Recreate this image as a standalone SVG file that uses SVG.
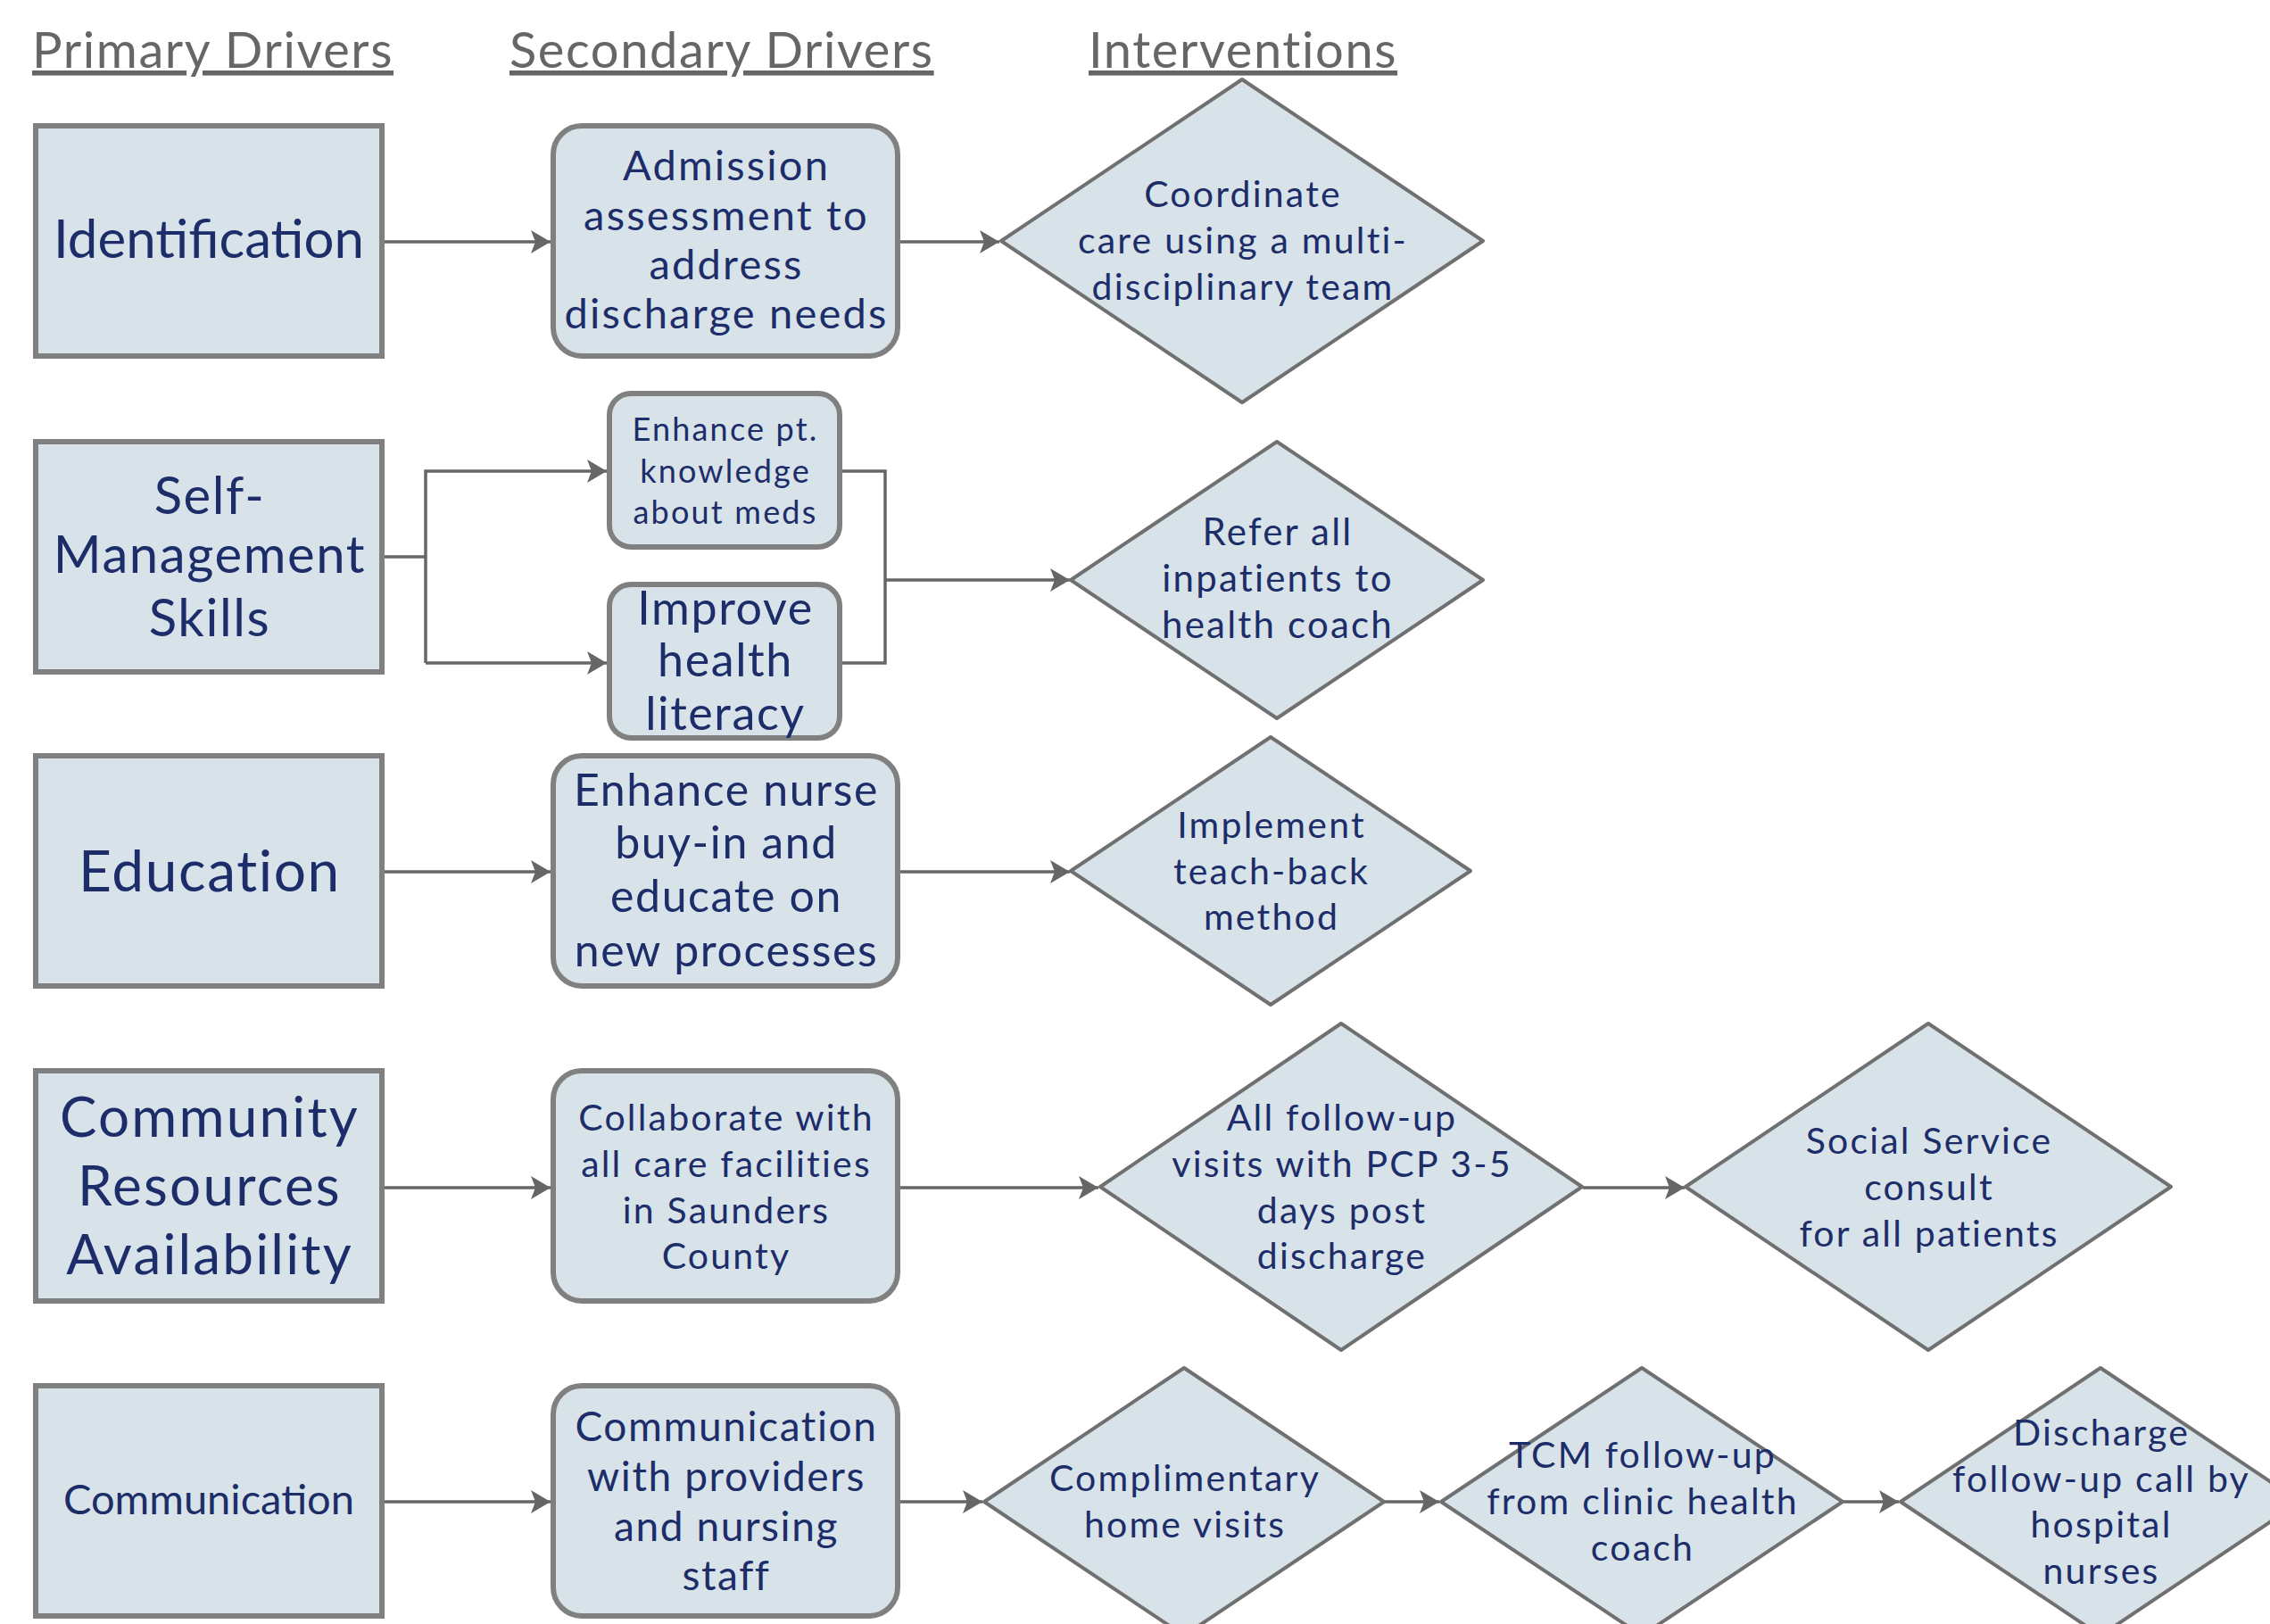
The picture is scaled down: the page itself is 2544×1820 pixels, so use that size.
<svg xmlns="http://www.w3.org/2000/svg" width="2544" height="1820" viewBox="0 0 2544 1820">
<defs>
<style>
.hdr{font-family:Lato,"Open Sans","Liberation Sans",sans-serif;fill:#666666;text-anchor:start;text-decoration:underline;letter-spacing:1.6px;}
.box{fill:#d8e3e9;stroke:#808080;stroke-width:6;}
.dia{fill:#d8e3e9;stroke:#707070;stroke-width:4;stroke-linejoin:round;}
.t{font-family:Lato,"Open Sans","Liberation Sans",sans-serif;fill:#1c2d6a;text-anchor:middle;dominant-baseline:central;}
.ls2{letter-spacing:2.2px;}
.ls1{letter-spacing:1.6px;}
.c{fill:none;stroke:#666666;stroke-width:3.5;}
</style>
<marker id="ah" markerUnits="userSpaceOnUse" markerWidth="24" markerHeight="26" refX="22" refY="13" orient="auto">
<path d="M0,0 L22,13 L0,26 L5,13 Z" fill="#666666"/>
</marker>
</defs>
<rect width="2544" height="1820" fill="#ffffff"/>

<g id="headers">
<text class="hdr" x="36" y="76" font-size="56">Primary Drivers</text>
<text class="hdr" x="571" y="76" font-size="56">Secondary Drivers</text>
<text class="hdr" x="1220" y="76" font-size="56">Interventions</text>
</g>

<g id="connectors">
<line class="c" x1="431" y1="271" x2="617" y2="271" marker-end="url(#ah)"/>
<line class="c" x1="1009" y1="271" x2="1120" y2="271" marker-end="url(#ah)"/>
<polyline class="c" points="431,624 477,624"/>
<polyline class="c" points="477,743 477,528 680,528" marker-end="url(#ah)"/>
<polyline class="c" points="477,743 680,743" marker-end="url(#ah)"/>
<polyline class="c" points="944,528 992,528 992,743 944,743"/>
<line class="c" x1="992" y1="650" x2="1199" y2="650" marker-end="url(#ah)"/>
<line class="c" x1="431" y1="977" x2="617" y2="977" marker-end="url(#ah)"/>
<line class="c" x1="1009" y1="977" x2="1199" y2="977" marker-end="url(#ah)"/>
<line class="c" x1="431" y1="1331" x2="617" y2="1331" marker-end="url(#ah)"/>
<line class="c" x1="1009" y1="1331" x2="1231" y2="1331" marker-end="url(#ah)"/>
<line class="c" x1="1774" y1="1331" x2="1888" y2="1331" marker-end="url(#ah)"/>
<line class="c" x1="431" y1="1683" x2="617" y2="1683" marker-end="url(#ah)"/>
<line class="c" x1="1009" y1="1683" x2="1101" y2="1683" marker-end="url(#ah)"/>
<line class="c" x1="1550" y1="1683" x2="1613" y2="1683" marker-end="url(#ah)"/>
<line class="c" x1="2065" y1="1683" x2="2128" y2="1683" marker-end="url(#ah)"/>
</g>

<g id="n-identification">
<rect class="box" x="40" y="141" width="388" height="258"/>
<text class="t" x="234" y="266" font-size="60">Identification</text>
</g>
<g id="n-admission">
<rect class="box" x="620" y="141" width="386" height="258" rx="32" ry="32"/>
<text class="t ls2" font-size="47"><tspan x="814" y="184">Admission</tspan><tspan x="814" y="240">assessment to</tspan><tspan x="814" y="295">address</tspan><tspan x="814" y="350">discharge needs</tspan></text>
</g>
<g id="n-coordinate">
<polygon class="dia" points="1392,89 1662,270 1392,451 1122,270"/>
<text class="t ls2" font-size="41"><tspan x="1393" y="216">Coordinate</tspan><tspan x="1393" y="268">care using a multi-</tspan><tspan x="1393" y="320">disciplinary team</tspan></text>
</g>

<g id="n-selfmgmt">
<rect class="box" x="40" y="495" width="388" height="258"/>
<text class="t ls1" font-size="58"><tspan x="235" y="553">Self-</tspan><tspan x="235" y="619">Management</tspan><tspan x="235" y="690">Skills</tspan></text>
</g>
<g id="n-enhancept">
<rect class="box" x="683" y="441" width="258" height="172" rx="24" ry="24"/>
<text class="t ls2" font-size="36"><tspan x="813" y="480">Enhance pt.</tspan><tspan x="813" y="527">knowledge</tspan><tspan x="813" y="573">about meds</tspan></text>
</g>
<g id="n-literacy">
<rect class="box" x="683" y="655" width="258" height="172" rx="24" ry="24"/>
<text class="t ls1" font-size="52"><tspan x="813" y="680">Improve</tspan><tspan x="813" y="738">health</tspan><tspan x="813" y="798">literacy</tspan></text>
</g>
<g id="n-refer">
<polygon class="dia" points="1431,495 1662,650 1431,805 1200,650"/>
<text class="t ls2" font-size="42"><tspan x="1432" y="595">Refer all</tspan><tspan x="1432" y="647">inpatients to</tspan><tspan x="1432" y="699">health coach</tspan></text>
</g>

<g id="n-education">
<rect class="box" x="40" y="847" width="388" height="258"/>
<text class="t ls1" x="235" y="974" font-size="64">Education</text>
</g>
<g id="n-enhancenurse">
<rect class="box" x="620" y="847" width="386" height="258" rx="32" ry="32"/>
<text class="t ls1" font-size="50"><tspan x="814" y="884">Enhance nurse</tspan><tspan x="814" y="943">buy-in and</tspan><tspan x="814" y="1003">educate on</tspan><tspan x="814" y="1064">new processes</tspan></text>
</g>
<g id="n-teachback">
<polygon class="dia" points="1424,826 1648,976 1424,1126 1200,976"/>
<text class="t ls2" font-size="41"><tspan x="1425" y="923">Implement</tspan><tspan x="1425" y="975">teach-back</tspan><tspan x="1425" y="1026">method</tspan></text>
</g>

<g id="n-community">
<rect class="box" x="40" y="1200" width="388" height="258"/>
<text class="t ls2" font-size="62"><tspan x="235" y="1250">Community</tspan><tspan x="235" y="1327">Resources</tspan><tspan x="235" y="1404">Availability</tspan></text>
</g>
<g id="n-collaborate">
<rect class="box" x="620" y="1200" width="386" height="258" rx="32" ry="32"/>
<text class="t ls2" font-size="41"><tspan x="814" y="1251">Collaborate with</tspan><tspan x="814" y="1303">all care facilities</tspan><tspan x="814" y="1355">in Saunders</tspan><tspan x="814" y="1406">County</tspan></text>
</g>
<g id="n-followup">
<polygon class="dia" points="1503,1147 1773,1330 1503,1513 1233,1330"/>
<text class="t ls2" font-size="41"><tspan x="1504" y="1251">All follow-up</tspan><tspan x="1504" y="1303">visits with PCP 3-5</tspan><tspan x="1504" y="1355">days post</tspan><tspan x="1504" y="1406">discharge</tspan></text>
</g>
<g id="n-social">
<polygon class="dia" points="2161,1147 2433,1330 2161,1513 1889,1330"/>
<text class="t ls2" font-size="41"><tspan x="2162" y="1277">Social Service</tspan><tspan x="2162" y="1329">consult</tspan><tspan x="2162" y="1381">for all patients</tspan></text>
</g>

<g id="n-communication">
<rect class="box" x="40" y="1553" width="388" height="258"/>
<text class="t" x="234" y="1679" font-size="47">Communication</text>
</g>
<g id="n-commproviders">
<rect class="box" x="620" y="1553" width="386" height="258" rx="32" ry="32"/>
<text class="t ls1" font-size="46"><tspan x="814" y="1597">Communication</tspan><tspan x="814" y="1653">with providers</tspan><tspan x="814" y="1709">and nursing</tspan><tspan x="814" y="1764">staff</tspan></text>
</g>
<g id="n-homevisits">
<polygon class="dia" points="1327,1533 1551,1683 1327,1833 1103,1683"/>
<text class="t ls2" font-size="41"><tspan x="1328" y="1655">Complimentary</tspan><tspan x="1328" y="1707">home visits</tspan></text>
</g>
<g id="n-tcm">
<polygon class="dia" points="1840,1533 2065,1683 1840,1833 1615,1683"/>
<text class="t ls2" font-size="41"><tspan x="1841" y="1629">TCM follow-up</tspan><tspan x="1841" y="1681">from clinic health</tspan><tspan x="1841" y="1733">coach</tspan></text>
</g>
<g id="n-dischargecall">
<polygon class="dia" points="2354,1533 2578,1683 2354,1833 2130,1683"/>
<text class="t ls2" font-size="41"><tspan x="2355" y="1604">Discharge</tspan><tspan x="2355" y="1656">follow-up call by</tspan><tspan x="2355" y="1707">hospital</tspan><tspan x="2355" y="1759">nurses</tspan></text>
</g>
</svg>
